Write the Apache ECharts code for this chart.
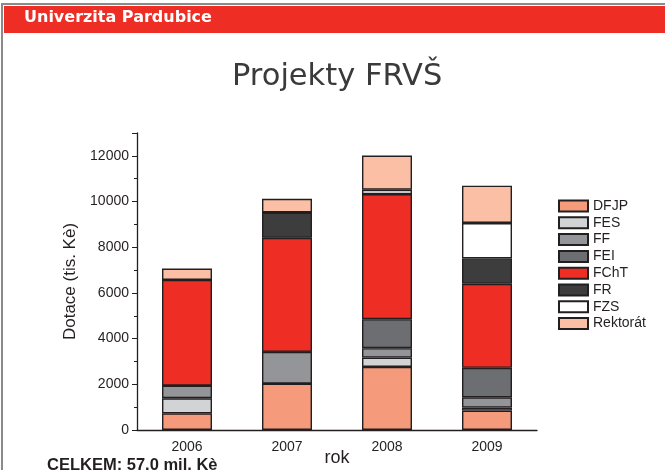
<!DOCTYPE html>
<html>
<head>
<meta charset="utf-8">
<script src="https://cdn.jsdelivr.net/npm/echarts@6/dist/echarts.min.js"></script>
<style>
html,body{margin:0;padding:0;background:#fff;}
#main{width:665px;height:470px;}
</style>
</head>
<body>
<div id="main"></div>
<script>
// data
var years = ['2006', '2007', '2008', '2009'];
var seriesNames = ['DFJP', 'FES', 'FF', 'FEI', 'FChT', 'FR', 'FZS', 'Rektorát'];
var seriesColors = ['#f59a7b', '#d1d3d4', '#939598', '#6d6e71', '#ee2e24', '#3d3d3d', '#ffffff', '#fbbfa5'];
var DFJP = [730, 2030, 2760, 850];
var FES = [660, 0, 410, 130];
var FF = [550, 1390, 410, 450];
var FEI = [0, 0, 1270, 1290];
var FChT = [4630, 4990, 5475, 3680];
var FR = [0, 1110, 0, 1110];
var FZS = [0, 0, 190, 1550];
var Rektorat = [495, 600, 1500, 1635];
var values = [DFJP, FES, FF, FEI, FChT, FR, FZS, Rektorat];

var myChart = echarts.init(document.getElementById('main'));

var series = [];
for (var i = 0; i < seriesNames.length; i++) {
	series.push({
		name: seriesNames[i],
		type: 'bar',
		stack: 'total',
		barWidth: '50%',
		itemStyle: {
			color: seriesColors[i],
			borderColor: '#231f20',
			borderWidth: 1.4
		},
		emphasis: {disabled: true},
		data: values[i]
	});
}

var option = {
	animation: false,
	textStyle: {fontFamily: 'Liberation Sans'},
	graphic: [
		// frame + red header
		{type: 'rect', shape: {x: 2, y: 4, width: 670, height: 470}, style: {fill: 'none', stroke: '#8a8a8a', lineWidth: 2}},
		{type: 'rect', shape: {x: 4, y: 6, width: 665, height: 27}, style: {fill: '#ee2e24'}},
		{type: 'text', left: 24, top: 10, style: {text: 'Univerzita Pardubice', fill: '#fff', font: 'bold 16px "DejaVu Sans"'}}
	],
	title: [
		{
			text: 'Projekty FRVŠ',
			left: 227,
			top: 57,
			textStyle: {fontFamily: 'DejaVu Sans', fontSize: 30.5, fontWeight: 'normal', color: '#3a3a3a'}
		},
		{
			text: 'CELKEM: 57.0 mil. Kè',
			left: 42,
			top: 452,
			textStyle: {fontFamily: 'Liberation Sans', fontSize: 16.5, fontWeight: 'bold', color: '#231f20'}
		}
	],
	legend: {
		orient: 'vertical',
		left: 553,
		top: 194,
		itemWidth: 29,
		itemHeight: 11,
		itemGap: 2.8,
		icon: 'rect',
		textStyle: {fontSize: 14, color: '#231f20'},
		data: seriesNames
	},
	grid: {left: 137, right: 128, top: 133, bottom: 40, outerBoundsMode: 'none'},
	xAxis: [
		{
			type: 'category',
			data: years,
			name: 'rok',
			nameLocation: 'middle',
			nameGap: 19,
			nameMoveOverlap: false,
			nameTextStyle: {fontSize: 18, color: '#231f20'},
			axisLine: {lineStyle: {color: '#231f20', width: 1.3}},
			axisTick: {alignWithLabel: true, length: 6, lineStyle: {color: '#231f20'}},
			axisLabel: {fontSize: 14, color: '#231f20', margin: 10}
		},
		{
			// boundary ticks between years
			type: 'category',
			data: years,
			position: 'bottom',
			axisLine: {show: false},
			axisTick: {length: 3, lineStyle: {color: '#231f20'}},
			axisLabel: {show: false}
		}
	],
	yAxis: {
		type: 'value',
		min: 0,
		max: 13000,
		interval: 2000,
		name: 'Dotace (tis. Kè)',
		nameLocation: 'middle',
		nameGap: 58,
		nameMoveOverlap: false,
		nameTextStyle: {fontSize: 17, color: '#231f20'},
		axisLine: {show: true, lineStyle: {color: '#231f20', width: 1.3}},
		axisTick: {show: true, length: 5, lineStyle: {color: '#231f20'}},
		minorTick: {show: true, splitNumber: 2, length: 3, lineStyle: {color: '#231f20'}},
		splitLine: {show: false},
		axisLabel: {
			fontSize: 14,
			color: '#231f20',
			margin: 8,
			formatter: function (v) {
				return v % 2000 === 0 ? v : '';
			}
		}
	},
	series: series
};
myChart.setOption(option);
</script>
</body>
</html>
